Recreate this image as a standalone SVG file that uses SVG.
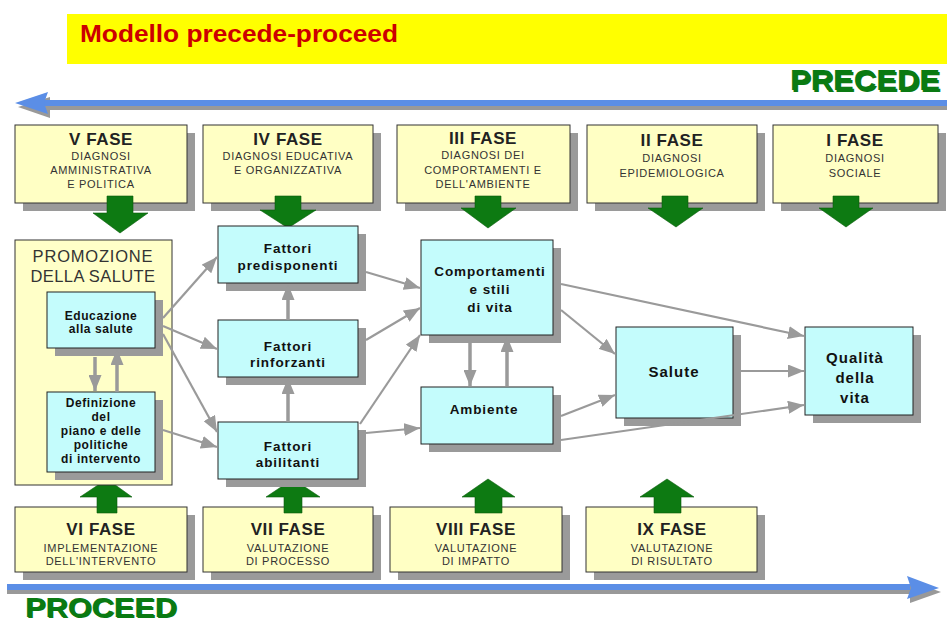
<svg xmlns="http://www.w3.org/2000/svg" width="947" height="625" viewBox="0 0 947 625">
<defs>
<style>
.yb{fill:#ffffc4;stroke:#333;stroke-width:1}
.cb{fill:#c4fcfc;stroke:#222;stroke-width:1}
.sh{fill:#9a9a9a}
.ph{font-family:'Liberation Sans',Arial,sans-serif;font-weight:bold;font-size:17px;fill:#222;text-anchor:middle;letter-spacing:.6px}
.ps{font-family:'Liberation Sans',Arial,sans-serif;font-size:11px;fill:#333;text-anchor:middle;letter-spacing:.7px}
.ct{font-family:'Liberation Sans',Arial,sans-serif;font-weight:bold;font-size:13.5px;fill:#111;text-anchor:middle;letter-spacing:.9px}
.cs{font-family:'Liberation Sans',Arial,sans-serif;font-weight:bold;font-size:12px;fill:#111;text-anchor:middle;letter-spacing:.6px}
.cl{font-family:'Liberation Sans',Arial,sans-serif;font-weight:bold;font-size:15px;fill:#111;text-anchor:middle;letter-spacing:1px}
.ga{fill:#0d7a12;stroke:#0a5c0c;stroke-width:.6}
.con{stroke:#9a9a9a;stroke-width:2.2;fill:none;marker-end:url(#ah)}
.thk{stroke-width:3.5}
.big{font-family:'Liberation Sans',Arial,sans-serif;font-weight:bold;fill:#0a7a12}
</style>
<marker id="ah" markerUnits="userSpaceOnUse" markerWidth="17" markerHeight="13" refX="16" refY="6.5" orient="auto">
<path d="M0,0 L16,6.5 L0,13 z" fill="#9a9a9a"/>
</marker>
</defs>
<rect width="947" height="625" fill="#fff"/>

<g id="title">
<rect x="67" y="14" width="880" height="50" fill="#ffff00"/>
<text x="80" y="42" font-family="'Liberation Sans Narrow','Liberation Sans',Arial,sans-serif" font-size="23" font-weight="bold" fill="#cc0000" textLength="318" lengthAdjust="spacingAndGlyphs">Modello precede-proceed</text>
</g>

<g id="precede">
<text class="big" x="791.5" y="91.5" font-size="30" textLength="150" lengthAdjust="spacingAndGlyphs" fill="#000">PRECEDE</text>
<text class="big" x="790" y="90" font-size="30" textLength="150" lengthAdjust="spacingAndGlyphs">PRECEDE</text>
<rect x="44" y="106" width="903" height="4" fill="#999"/>
<polygon points="18,107 50,97 50,118" fill="#999"/>
<rect x="44" y="100" width="903" height="6" fill="#5b8ee6"/>
<polygon points="15,103 48,92 44,103 48,114" fill="#5b8ee6"/>
</g>

<g id="proceed">
<rect x="7" y="590" width="903" height="4" fill="#999"/>
<polygon points="910,581 941,592 910,603" fill="#999"/>
<rect x="7" y="584" width="903" height="6" fill="#5b8ee6"/>
<polygon points="907,576 939,588 907,599 911,588" fill="#5b8ee6"/>
<text class="big" x="26.3" y="618.3" font-size="27" textLength="152" lengthAdjust="spacingAndGlyphs" fill="#000">PROCEED</text>
<text class="big" x="25" y="617" font-size="27" textLength="152" lengthAdjust="spacingAndGlyphs">PROCEED</text>
</g>

<!-- top phase boxes -->
<g id="fase5">
<rect class="sh" x="23" y="133" width="172" height="78"/>
<rect class="yb" x="15" y="125" width="172" height="78"/>
<text class="ph" x="101" y="145">V FASE</text>
<text class="ps" x="101" y="160">DIAGNOSI</text>
<text class="ps" x="101" y="174">AMMINISTRATIVA</text>
<text class="ps" x="101" y="188">E POLITICA</text>
<polygon class="ga" points="107,196 133,196 133,213 148,213 120,233 93,213 107,213"/>
</g>
<g id="fase4">
<rect class="sh" x="211" y="133" width="170" height="78"/>
<rect class="yb" x="203" y="125" width="170" height="78"/>
<text class="ph" x="288" y="145">IV FASE</text>
<text class="ps" x="288" y="160">DIAGNOSI EDUCATIVA</text>
<text class="ps" x="288" y="174">E ORGANIZZATIVA</text>
<polygon class="ga" points="275,196 301,196 301,210 316,210 288,228 260,210 275,210"/>
</g>
<g id="fase3">
<rect class="sh" x="405" y="133" width="173" height="78"/>
<rect class="yb" x="397" y="125" width="173" height="78"/>
<text class="ph" x="483" y="144">III FASE</text>
<text class="ps" x="483" y="159">DIAGNOSI DEI</text>
<text class="ps" x="483" y="174">COMPORTAMENTI E</text>
<text class="ps" x="483" y="188">DELL'AMBIENTE</text>
<polygon class="ga" points="475,196 501,196 501,208 516,208 488,228 461,208 475,208"/>
</g>
<g id="fase2">
<rect class="sh" x="595" y="133" width="170" height="78"/>
<rect class="yb" x="587" y="125" width="170" height="78"/>
<text class="ph" x="672" y="146">II FASE</text>
<text class="ps" x="672" y="162">DIAGNOSI</text>
<text class="ps" x="672" y="177">EPIDEMIOLOGICA</text>
<polygon class="ga" points="662,196 688,196 688,208 703,208 676,227 648,208 662,208"/>
</g>
<g id="fase1">
<rect class="sh" x="781" y="133" width="165" height="78"/>
<rect class="yb" x="773" y="125" width="165" height="78"/>
<text class="ph" x="855" y="146">I FASE</text>
<text class="ps" x="855" y="162">DIAGNOSI</text>
<text class="ps" x="855" y="177">SOCIALE</text>
<polygon class="ga" points="833,196 859,196 859,208 873,208 846,227 819,208 833,208"/>
</g>

<!-- bottom phase boxes -->
<g id="fase6">
<rect class="sh" x="23" y="515" width="172" height="65"/>
<rect class="yb" x="15" y="507" width="172" height="65"/>
<text class="ph" x="101" y="535">VI FASE</text>
<text class="ps" x="101" y="552">IMPLEMENTAZIONE</text>
<text class="ps" x="101" y="565">DELL'INTERVENTO</text>
<polygon class="ga" points="97,513 117,513 117,497 132,497 107,479 80,497 97,497"/>
</g>
<g id="fase7">
<rect class="sh" x="211" y="515" width="170" height="65"/>
<rect class="yb" x="203" y="507" width="170" height="65"/>
<text class="ph" x="288" y="535">VII FASE</text>
<text class="ps" x="288" y="552">VALUTAZIONE</text>
<text class="ps" x="288" y="565">DI PROCESSO</text>
<polygon class="ga" points="284,513 302,513 302,497 320,497 293,479 266,497 284,497"/>
</g>
<g id="fase8">
<rect class="sh" x="398" y="515" width="172" height="65"/>
<rect class="yb" x="390" y="507" width="172" height="65"/>
<text class="ph" x="476" y="535">VIII FASE</text>
<text class="ps" x="476" y="552">VALUTAZIONE</text>
<text class="ps" x="476" y="565">DI IMPATTO</text>
<polygon class="ga" points="475,513 502,513 502,497 515,497 488,479 462,497 475,497"/>
</g>
<g id="fase9">
<rect class="sh" x="594" y="515" width="171" height="65"/>
<rect class="yb" x="586" y="507" width="171" height="65"/>
<text class="ph" x="672" y="535">IX FASE</text>
<text class="ps" x="672" y="552">VALUTAZIONE</text>
<text class="ps" x="672" y="565">DI RISULTATO</text>
<polygon class="ga" points="654,513 681,513 681,497 694,497 667,479 640,497 654,497"/>
</g>

<!-- promozione -->
<g id="promozione">
<rect x="15" y="240" width="157" height="245" fill="#ffffc8" stroke="#333" stroke-width="1"/>
<text x="93" y="262" font-family="'Liberation Sans',Arial,sans-serif" font-size="16.5" fill="#333" text-anchor="middle" letter-spacing="0.8">PROMOZIONE</text>
<text x="93" y="282" font-family="'Liberation Sans',Arial,sans-serif" font-size="16.5" fill="#333" text-anchor="middle" letter-spacing="0.4">DELLA SALUTE</text>
</g>
<g id="educazione">
<rect class="sh" x="55" y="300" width="108" height="56"/>
<rect class="cb" x="47" y="292" width="108" height="56"/>
<text class="cs" x="101" y="320">Educazione</text>
<text class="cs" x="101" y="333">alla salute</text>
</g>
<g id="definizione">
<rect class="sh" x="55" y="400" width="108" height="80"/>
<rect class="cb" x="47" y="392" width="108" height="80"/>
<text class="cs" x="101" y="407">Definizione</text>
<text class="cs" x="101" y="421">del</text>
<text class="cs" x="101" y="435">piano e delle</text>
<text class="cs" x="101" y="449">politiche</text>
<text class="cs" x="101" y="463">di intervento</text>
</g>

<!-- fattori -->
<g id="predisponenti">
<rect class="sh" x="226" y="234" width="140" height="57"/>
<rect class="cb" x="218" y="226" width="140" height="57"/>
<text class="ct" x="288" y="253">Fattori</text>
<text class="ct" x="288" y="270">predisponenti</text>
</g>
<g id="rinforzanti">
<rect class="sh" x="226" y="328" width="140" height="57"/>
<rect class="cb" x="218" y="320" width="140" height="57"/>
<text class="ct" x="288" y="351">Fattori</text>
<text class="ct" x="288" y="367">rinforzanti</text>
</g>
<g id="abilitanti">
<rect class="sh" x="226" y="430" width="140" height="57"/>
<rect class="cb" x="218" y="422" width="140" height="57"/>
<text class="ct" x="288" y="451">Fattori</text>
<text class="ct" x="288" y="467">abilitanti</text>
</g>

<g id="comportamenti">
<rect class="sh" x="429" y="248" width="132" height="95"/>
<rect class="cb" x="421" y="240" width="132" height="95"/>
<text class="ct" x="490" y="276">Comportamenti</text>
<text class="ct" x="490" y="294">e stili</text>
<text class="ct" x="490" y="312">di vita</text>
</g>
<g id="ambiente">
<rect class="sh" x="429" y="395" width="132" height="57"/>
<rect class="cb" x="421" y="387" width="132" height="57"/>
<text class="ct" x="484" y="414">Ambiente</text>
</g>
<g id="salute">
<rect class="sh" x="624" y="335" width="117" height="91"/>
<rect class="cb" x="616" y="327" width="117" height="91"/>
<text class="cl" x="674" y="377">Salute</text>
</g>
<g id="qualita">
<rect class="sh" x="813" y="335" width="108" height="88"/>
<rect class="cb" x="805" y="327" width="108" height="88"/>
<text class="cl" x="855" y="363">Qualità</text>
<text class="cl" x="855" y="383">della</text>
<text class="cl" x="855" y="403">vita</text>
</g>

<g id="connectors">
<line class="con" x1="163" y1="318" x2="217" y2="257"/>
<line class="con" x1="163" y1="326" x2="217" y2="349"/>
<line class="con" x1="163" y1="334" x2="217" y2="432"/>
<line class="con" x1="163" y1="430" x2="217" y2="447"/>
<line class="con thk" x1="95" y1="357" x2="95" y2="391"/>
<line class="con thk" x1="117" y1="392" x2="117" y2="349"/>
<line class="con thk" x1="288" y1="320" x2="288" y2="284"/>
<line class="con thk" x1="288" y1="422" x2="288" y2="378"/>
<line class="con" x1="366" y1="272" x2="420" y2="288"/>
<line class="con" x1="366" y1="340" x2="420" y2="308"/>
<line class="con" x1="360" y1="424" x2="420" y2="335"/>
<line class="con" x1="366" y1="433" x2="420" y2="428"/>
<line class="con thk" x1="470" y1="343" x2="470" y2="386"/>
<line class="con thk" x1="507" y1="386" x2="507" y2="336"/>
<line class="con" x1="561" y1="284" x2="804" y2="336"/>
<line class="con" x1="561" y1="310" x2="615" y2="354"/>
<line class="con" x1="741" y1="371" x2="804" y2="371"/>
<line class="con" x1="561" y1="416" x2="615" y2="395"/>
<line class="con" x1="561" y1="440" x2="804" y2="405"/>
</g>
</svg>
